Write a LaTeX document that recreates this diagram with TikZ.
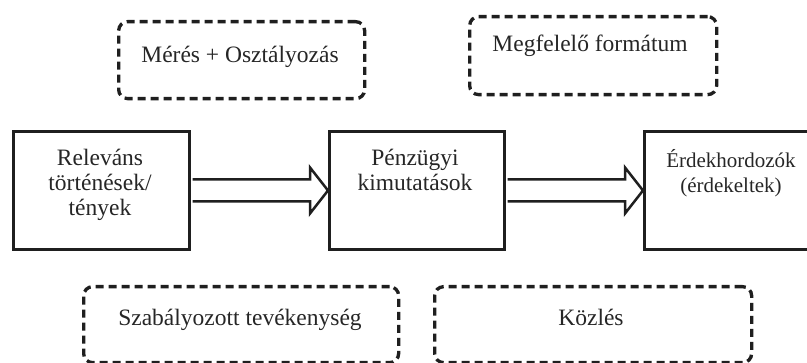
\documentclass[tikz,border=0pt]{standalone}
\usepackage{fontspec}
\setmainfont{Liberation Serif}
\usetikzlibrary{calc}
\begin{document}
\begin{tikzpicture}[x=1pt,y=-1pt,
  solidbox/.style={draw=black!88, line width=3pt, minimum height=118pt, inner sep=0pt},
  dashbox/.style={draw=black!88, line width=3.3pt, dash pattern=on 8pt off 5pt, rounded corners=9pt, inner sep=0pt},
  lbl/.style={font=\fontsize{23.5}{25}\selectfont, align=center, text=black!85, inner sep=0pt},
  fatarrow/.style={draw=black!88, line width=2.5pt, line join=miter}]
\useasboundingbox (0,0) rectangle (807,363);
\clip (0,0) rectangle (807,363);
% dashed boxes
\node[dashbox, minimum width=246pt, minimum height=77pt, anchor=north west] (meres) at (117,20) {};
\node[dashbox, minimum width=247pt, minimum height=78pt, anchor=north west] (format) at (468,15) {};
\node[dashbox, minimum width=315pt, minimum height=76pt, anchor=north west] (szab) at (82,285) {};
\node[dashbox, minimum width=317pt, minimum height=76pt, anchor=north west] (kozl) at (433,285) {};
% solid boxes
\node[solidbox, minimum width=176pt, anchor=north west] (rel) at (12,130) {};
\node[solidbox, minimum width=175pt, anchor=north west] (pen) at (328,130) {};
\node[solidbox, minimum width=175pt, anchor=north west] (erd) at (643,130) {};
% labels
\node[lbl, anchor=base] (tmeres) at (240,63) {Mérés + Osztályozás};
\node[lbl, anchor=base] (tformat) at (590,52) {Megfelelő formátum};
\node[lbl, anchor=base] (tszab) at (240,326) {Szabályozott tevékenység};
\node[lbl, anchor=base] (tkozl) at (591,326) {Közlés};
\node[lbl, anchor=base] (trel) at (100,216) {Releváns\\történések/\\tények};
\node[lbl, anchor=base] (tpen) at (415,191) {Pénzügyi\\kimutatások};
\node[lbl, anchor=base, font=\fontsize{21}{25}\selectfont] (terd) at (731,193) {Érdekhordozók\\(érdekeltek)};
% fat arrows
\draw[fatarrow] ($(rel.east)+(1.5,-11)$) -- ($(pen.west)+(-18,-11)$) -- ($(pen.west)+(-18,-23)$) -- (pen.west) -- ($(pen.west)+(-18,23)$) -- ($(pen.west)+(-18,11)$) -- ($(rel.east)+(1.5,11)$);
\draw[fatarrow] ($(pen.east)+(1.5,-11)$) -- ($(erd.west)+(-18,-11)$) -- ($(erd.west)+(-18,-23)$) -- (erd.west) -- ($(erd.west)+(-18,23)$) -- ($(erd.west)+(-18,11)$) -- ($(pen.east)+(1.5,11)$);
\end{tikzpicture}
\end{document}
